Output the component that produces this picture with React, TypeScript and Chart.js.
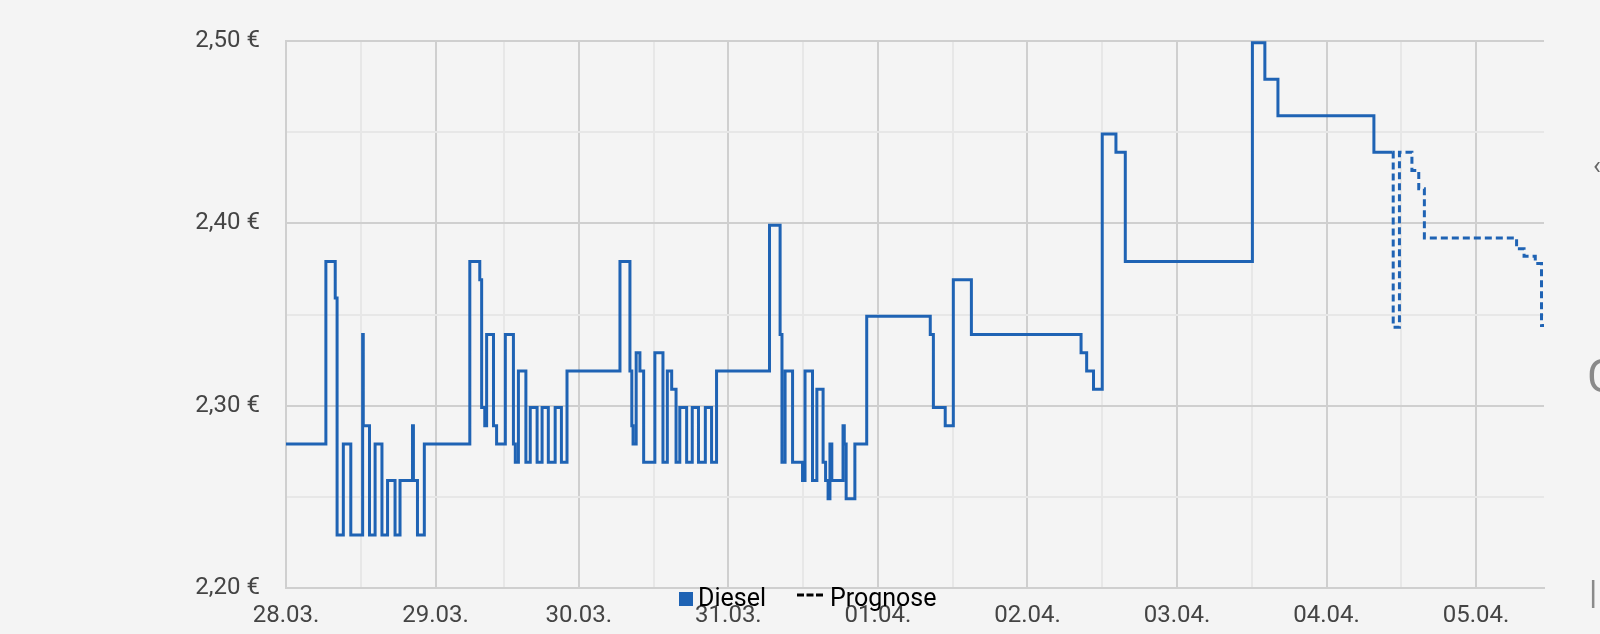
import React, { useEffect, useRef } from "react";
import { Chart, registerables } from "chart.js";

Chart.register(...registerables);

// Hours elapsed since 28.03. 00:00 (DST switch on 29.03. makes that day 23 h long)
const dieselHours = [
  0, 6.4, 7.9, 8.2, 9.2, 10.4, 12.3, 12.4, 13.4, 14.3, 15.4, 16.3, 17.5, 18.3, 20.3, 20.45, 21.1, 22.2,
  29.5, 31.1, 31.4, 31.9, 32.2, 33.3, 33.8, 35.2, 36.5, 36.8, 37.3, 38.5, 39.2, 40.3, 41.1, 42.1, 43.2, 44.2, 45.1,
  53.6, 55.2, 55.5, 55.7, 56.2, 56.8, 57.4, 59.2, 60.5, 61.2, 61.9, 62.6, 63.2, 64.3, 65.2, 66.2, 67.3, 68.3, 69.1,
  77.6, 79.3, 79.6, 80.1, 81.3, 82.9, 83.3, 84.5, 85.2, 86.2, 86.6, 87.0, 87.3, 87.6, 89.4, 89.6, 89.9, 91.3,
  93.2, 103.4, 103.9, 105.8, 107.1, 110.0, 127.6, 128.5, 129.6, 131.0, 133.2, 134.7,
  155.1, 157.1, 159.2, 174.6, 177.6,
];
const dieselPrices = [
  2.279, 2.379, 2.359, 2.229, 2.279, 2.229, 2.339, 2.289, 2.229, 2.279, 2.229, 2.259, 2.229, 2.259, 2.289, 2.259, 2.229, 2.279,
  2.379, 2.369, 2.299, 2.289, 2.339, 2.289, 2.279, 2.339, 2.279, 2.269, 2.319, 2.269, 2.299, 2.269, 2.299, 2.269, 2.299, 2.269, 2.319,
  2.379, 2.319, 2.289, 2.279, 2.329, 2.319, 2.269, 2.329, 2.269, 2.319, 2.309, 2.269, 2.299, 2.269, 2.299, 2.269, 2.299, 2.269, 2.319,
  2.399, 2.339, 2.269, 2.319, 2.269, 2.259, 2.319, 2.259, 2.309, 2.269, 2.259, 2.249, 2.279, 2.259, 2.289, 2.279, 2.249, 2.279,
  2.349, 2.339, 2.299, 2.289, 2.369, 2.339, 2.329, 2.319, 2.309, 2.449, 2.439, 2.379,
  2.499, 2.479, 2.459, 2.439, 2.439,
];

const forecastHours = [177.6, 177.7, 178.7, 180.7, 181.8, 182.7, 197.5, 198.7, 200.5, 201.5, 201.9];
const forecastPrices = [2.439, 2.343, 2.439, 2.429, 2.419, 2.392, 2.386, 2.382, 2.378, 2.344, 2.344];

const dayTickHours = [0, 24, 47, 71, 95, 119, 143, 167, 191];
const dayTickLabels = ["28.03.", "29.03.", "30.03.", "31.03.", "01.04.", "02.04.", "03.04.", "04.04.", "05.04."];
const noonTickHours = [12, 35, 59, 83, 107, 131, 155, 179];

const priceTicks = [2.2, 2.25, 2.3, 2.35, 2.4, 2.45, 2.5];
const seriesNames = ["Diesel", "Prognose"];

const X_MIN = 0;
const X_MAX = 201.9;
const Y_MIN = 2.2;
const Y_MAX = 2.5;

const LINE_COLOR = "#1f63b4";
const MAJOR_GRID = "#cfcfcf";
const MINOR_GRID = "#e7e7e7";
const TICK_COLOR = "#444444";
const BG = "#f4f4f4";

const isMajorPrice = (v: number) => Math.round(v * 100) % 10 === 0;
const isMajorHour = (v: number) => dayTickHours.includes(v);

const legendPlugin = {
  id: "customLegend",
  afterDraw(chart: any) {
    const ctx = chart.ctx as CanvasRenderingContext2D;
    ctx.save();
    ctx.fillStyle = LINE_COLOR;
    ctx.fillRect(679, 592, 14, 14);
    ctx.font = "25px Roboto";
    ctx.fillStyle = "#000000";
    ctx.textBaseline = "alphabetic";
    ctx.textAlign = "left";
    ctx.fillText(seriesNames[0], 698, 606);
    for (let i = 0; i < 3; i++) {
      ctx.fillRect(797 + i * 9.5, 593.5, 7, 3);
    }
    ctx.fillText(seriesNames[1], 830, 606);
    ctx.restore();
  },
};

export default function App() {
  const canvasRef = useRef<HTMLCanvasElement>(null);

  useEffect(() => {
    if (!canvasRef.current) return;
    const chart = new Chart(canvasRef.current, {
      type: "line",
      data: {
        datasets: [
          {
            label: seriesNames[0],
            data: dieselHours.map((h, i) => ({ x: h, y: dieselPrices[i] })),
            borderColor: LINE_COLOR,
            backgroundColor: LINE_COLOR,
            borderWidth: 3,
            stepped: true,
            pointRadius: 0,
            fill: false,
            borderJoinStyle: "miter",
          },
          {
            label: seriesNames[1],
            data: forecastHours.map((h, i) => ({ x: h, y: forecastPrices[i] })),
            borderColor: LINE_COLOR,
            backgroundColor: LINE_COLOR,
            borderWidth: 3,
            borderDash: [7, 4],
            stepped: true,
            pointRadius: 0,
            fill: false,
            borderJoinStyle: "miter",
          },
        ],
      },
      options: {
        responsive: false,
        animation: false,
        devicePixelRatio: 1,
        layout: { padding: { left: 0, right: 56, top: 41, bottom: 0 } },
        plugins: {
          legend: { display: false },
          tooltip: { enabled: false },
        },
        scales: {
          x: {
            type: "linear",
            min: X_MIN,
            max: X_MAX,
            afterBuildTicks: (scale: any) => {
              scale.ticks = [...dayTickHours, ...noonTickHours]
                .sort((a, b) => a - b)
                .map((v) => ({ value: v }));
            },
            afterFit: (scale: any) => {
              scale.height = 46;
            },
            ticks: {
              autoSkip: false,
              maxRotation: 0,
              minRotation: 0,
              padding: 14,
              color: TICK_COLOR,
              font: { family: "Roboto", size: 24 },
              callback: (value: any) => {
                const idx = dayTickHours.indexOf(Number(value));
                return idx >= 0 ? dayTickLabels[idx] : "";
              },
            },
            grid: {
              drawTicks: false,
              lineWidth: 2,
              color: (ctx: any) => (ctx.tick && isMajorHour(ctx.tick.value) ? MAJOR_GRID : MINOR_GRID),
            },
            border: { display: true, color: MAJOR_GRID, width: 2 },
          },
          y: {
            type: "linear",
            min: Y_MIN,
            max: Y_MAX,
            afterBuildTicks: (scale: any) => {
              scale.ticks = priceTicks.map((v) => ({ value: v }));
            },
            afterFit: (scale: any) => {
              scale.width = 286;
            },
            ticks: {
              autoSkip: false,
              padding: 26,
              color: TICK_COLOR,
              font: { family: "Roboto", size: 24 },
              callback: (value: any) => {
                const v = Number(value);
                return isMajorPrice(v) ? v.toFixed(2).replace(".", ",") + " €" : "";
              },
            },
            grid: {
              drawTicks: false,
              lineWidth: 2,
              color: (ctx: any) => (ctx.tick && isMajorPrice(ctx.tick.value) ? MAJOR_GRID : MINOR_GRID),
            },
            border: { display: true, color: MAJOR_GRID, width: 2 },
          },
        },
      },
      plugins: [legendPlugin],
    } as any);
    return () => chart.destroy();
  }, []);

  return (
    <div
      style={{
        position: "fixed",
        left: 0,
        top: 0,
        width: 1600,
        height: 634,
        background: BG,
        overflow: "hidden",
        fontFamily: "Roboto",
      }}
    >
      <canvas ref={canvasRef} width={1600} height={634} style={{ display: "block", width: 1600, height: 634 }} />
      <span style={{ position: "absolute", left: 1593, top: 150, fontSize: 26, lineHeight: "30px", color: "#666" }}>‹</span>
      <span style={{ position: "absolute", left: 1587, top: 350, fontSize: 46, lineHeight: "52px", color: "#8a8a8a" }}>C</span>
      <span style={{ position: "absolute", left: 1589, top: 574, fontSize: 34, lineHeight: "36px", color: "#8a8a8a" }}>|</span>
    </div>
  );
}
